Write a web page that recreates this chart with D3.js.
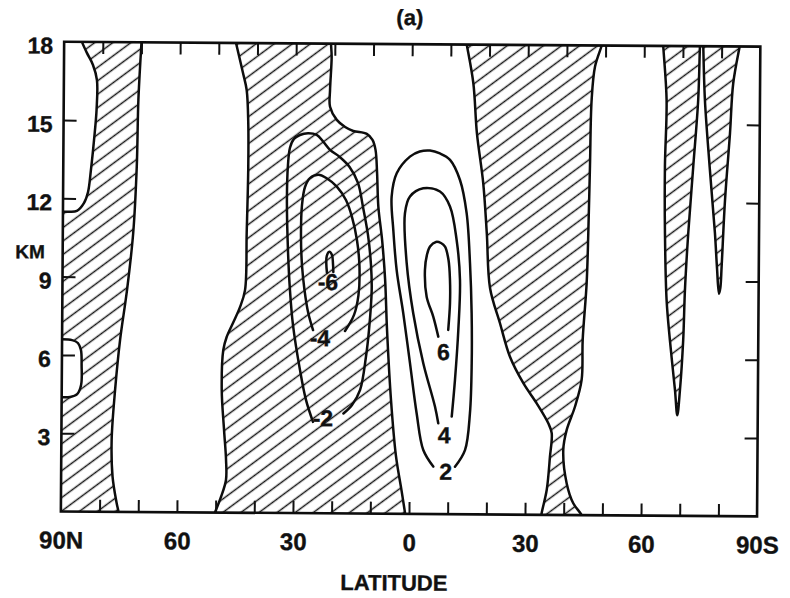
<!DOCTYPE html>
<html>
<head>
<meta charset="utf-8">
<script src="https://cdn.jsdelivr.net/npm/d3@7"></script>
<style>
  html, body { margin: 0; padding: 0; background: #fff; }
  svg { display: block; }
  text { font-family: "Liberation Sans", Arial, sans-serif; font-weight: bold; fill: #111;
         stroke: #111; stroke-width: 0.35; }
</style>
</head>
<body>
<svg id="chart" width="790" height="598"></svg>
<script>
// ---- axis ticks ----
const latTicks = [90, 60, 30, 0, -30, -60, -90];
const latTickLabels = ["90N", "60", "30", "0", "30", "60", "90S"];
const latTickMarks = [80, 70, 60, 50, 40, 30, 20, 10, 0, -10, -20, -30, -40, -50, -60, -70, -80];
const kmTicks = [3, 6, 9, 12, 15, 18];
const kmTickMarks = [3, 6, 9, 12, 15];

// ---- zero lines, [latitude (N > 0), height km], traced top to bottom ----
const zeroPolarCap = [[86.1, 18.3], [85.4, 18.0], [84.1, 17.58], [82.5, 17.12], [81.45, 16.54], [81.5, 15.39],
  [82.1, 14.24], [82.85, 13.09], [83.55, 12.25], [84.6, 11.82], [86.4, 11.52], [89.0, 11.49], [91.5, 11.49]];
const zeroArcticEdge = [[69.9, 18.3], [70.0, 18.0], [70.7, 15.8], [71.0, 13.24], [71.8, 10.69], [73.3, 8.5],
  [75.0, 6.59], [76.2, 4.67], [77.0, 2.75], [76.7, 1.35], [75.6, 0.34], [75.1, 0.0], [74.9, -0.3]];
const arcticPocket = [[91.5, 6.59], [87.4, 6.57], [85.9, 6.46], [85.1, 6.19], [84.9, 5.61], [85.0, 4.85],
  [86.0, 4.5], [87.8, 4.39], [91.5, 4.39]];
const zeroMidLatN = [[46.0, 18.3], [45.56, 18.0], [43.7, 16.85], [42.72, 16.2], [42.25, 14.93], [42.17, 13.25],
  [42.46, 10.72], [42.79, 8.53], [44.06, 7.88], [45.84, 7.27], [47.45, 6.73], [48.3, 6.23], [48.63, 4.7],
  [47.96, 3.17], [47.39, 2.02], [47.37, 1.25], [48.63, 0.6], [50.16, 0.0], [50.9, -0.3]];
const zeroTropicN = [[21.0, 18.3], [21.0, 18.0], [20.81, 17.5], [21.17, 16.22], [21.14, 15.58], [19.38, 15.08],
  [17.2, 14.81], [15.08, 14.66], [11.59, 14.55], [10.1, 14.32], [9.3, 13.94], [8.86, 13.06], [8.47, 11.77],
  [7.44, 10.49], [6.6, 9.0], [6.0, 7.04], [4.86, 4.38], [3.47, 2.22], [2.0, 0.93], [0.98, 0.0], [0.6, -0.3]];
const zeroSubtropS = [[-13.7, 18.3], [-14.09, 18.0], [-15.87, 16.52], [-16.88, 14.61], [-18.61, 12.69],
  [-19.62, 10.77], [-20.55, 8.68], [-23.19, 7.33], [-25.83, 6.05], [-29.34, 5.04], [-32.83, 4.27],
  [-35.86, 3.51], [-36.76, 3.13], [-36.35, 2.23], [-35.57, 0.95], [-34.3, 0.06], [-34.0, -0.3]];
const zeroMidLatS = [[-49.5, 18.3], [-48.99, 18.0], [-47.3, 17.19], [-46.48, 15.91], [-46.17, 13.36],
  [-45.86, 10.8], [-45.52, 8.88], [-44.6, 6.71], [-44.4, 5.18], [-42.72, 4.15], [-40.63, 3.26],
  [-39.78, 2.49], [-40.71, 1.22], [-42.46, 0.45], [-44.64, 0.0], [-45.3, -0.3]];
const wedge70S = [[-64.8, 18.3], [-64.9, 18.0], [-65.86, 15.93], [-65.55, 13.38], [-65.68, 10.82],
  [-66.22, 8.27], [-67.15, 6.73], [-68.55, 4.82], [-69.2, 3.85], [-69.84, 4.82], [-70.59, 6.74],
  [-70.95, 8.66], [-71.7, 10.83], [-72.87, 13.38], [-74.03, 15.94], [-74.4, 18.05], [-74.5, 18.3]];
const wedge80S = [[-75.2, 18.3], [-75.25, 18.0], [-75.77, 15.94], [-77.11, 13.39], [-78.6, 10.84],
  [-79.2, 9.5], [-79.75, 8.52], [-80.1, 8.75], [-80.39, 9.56], [-81.15, 12.12], [-82.31, 14.67],
  [-83.06, 16.59], [-84.74, 18.07], [-85.0, 18.3]];

// ---- labelled contours ----
const contourMinus2 = [[24.98, 3.5], [26.83, 4.34], [28.44, 5.49], [30.33, 7.21], [31.16, 8.52], [31.76, 10.08],
  [32.12, 12.0], [31.91, 13.34], [31.42, 14.0], [30.41, 14.34], [28.88, 14.49], [26.79, 14.56], [24.54, 14.5],
  [22.83, 14.24], [21.07, 13.93], [18.54, 13.66], [15.98, 13.28], [13.78, 12.67], [12.44, 11.75], [11.1, 10.68],
  [10.27, 9.53], [10.04, 8.57], [10.66, 7.04], [11.41, 6.0], [12.88, 4.73], [14.92, 4.16], [17.12, 3.83]];
const contourMinus4 = [[25.13, 7.02], [26.4, 7.67], [27.41, 8.55], [28.11, 9.51], [28.42, 10.66], [28.21, 11.81],
  [27.47, 12.5], [26.2, 12.84], [24.05, 12.97], [21.88, 12.84], [19.24, 12.52], [16.86, 12.01], [15.26, 11.36],
  [13.94, 10.48], [13.24, 9.45], [13.45, 8.37], [14.56, 7.61], [16.86, 6.99]];
const contourMinus6 = [[21.63, 9.21], [21.82, 9.56], [21.72, 9.86], [21.07, 10.02], [20.37, 9.9], [20.09, 9.56],
  [19.99, 9.25]];
const contourPlus2 = [[-6.2, 1.82], [-3.59, 2.45], [-1.8, 3.86], [0.0, 5.77], [1.84, 7.69], [3.62, 9.34],
  [4.56, 10.88], [5.05, 12.15], [3.78, 13.05], [0.39, 13.69], [-2.14, 13.89], [-4.78, 13.93], [-7.36, 13.82],
  [-9.98, 13.58], [-12.59, 12.81], [-14.37, 11.54], [-15.33, 9.62], [-15.84, 7.71], [-15.95, 5.79],
  [-15.58, 3.87], [-14.37, 2.46], [-11.81, 1.82]];
const contourPlus4 = [[-7.41, 3.48], [-6.53, 4.12], [-3.43, 5.78], [-0.74, 7.69], [1.04, 9.61], [1.58, 11.52],
  [0.31, 12.16], [-3.1, 12.48], [-7.44, 12.36], [-10.05, 11.79], [-11.83, 10.51], [-12.77, 8.98],
  [-12.43, 7.06], [-11.65, 5.14], [-10.88, 3.74]];
const contourPlus6 = [[-7.26, 6.8], [-5.94, 7.56], [-4.18, 8.33], [-3.69, 9.35], [-4.18, 9.93], [-4.96, 10.25],
  [-6.48, 10.43], [-7.79, 10.39], [-8.84, 10.25], [-9.77, 9.74], [-10.18, 8.98], [-10.23, 8.08], [-9.82, 7.06]];

const labelText = ["-6", "-4", "-2", "6", "4", "2"];
const labelLat = [21.36, 23.33, 22.41, -8.6, -8.97, -9.43];
const labelKm = [8.87, 6.72, 3.65, 6.22, 3.03, 1.63];

// ---- layout ----
const frame = { left: 62.5, right: 758.7, top: 44.2, bottom: 513.9 };

const svg = d3.select("#chart");
const defs = svg.append("defs");

defs.append("clipPath").attr("id", "frame-clip")
  .append("rect")
  .attr("x", frame.left).attr("y", frame.top)
  .attr("width", frame.right - frame.left).attr("height", frame.bottom - frame.top);

const hatch = defs.append("pattern")
  .attr("id", "hatch")
  .attr("patternUnits", "userSpaceOnUse")
  .attr("width", 40).attr("height", 10.8)
  .attr("patternTransform", "rotate(-37)");
hatch.append("line")
  .attr("x1", -2).attr("x2", 42).attr("y1", 5.4).attr("y2", 5.4)
  .attr("stroke", "#151515").attr("stroke-width", 1.5);

// the whole sheet sits at a very slight tilt
const g = svg.append("g").attr("transform", "rotate(0.4, 410.6, 279)");

const x = d3.scaleLinear().domain([90, -90]).range([frame.left, frame.right]);
const y = d3.scaleLinear().domain([0, 18]).range([frame.bottom, frame.top]);

const line = d3.line()
  .x(d => x(d[0])).y(d => y(d[1]))
  .curve(d3.curveCatmullRom.alpha(0.5));

// build a closed outline from curve pieces and straight corner points
function outline(parts) {
  let d = "";
  parts.forEach((p, i) => {
    if (p.curve) {
      const s = line(p.curve);
      d += i === 0 ? s : "L" + s.slice(1);
    } else {
      d += (i === 0 ? "M" : "L") + x(p.pt[0]) + "," + y(p.pt[1]);
    }
  });
  return d + "Z";
}
const rev = a => a.slice().reverse();

const plot = g.append("g").attr("clip-path", "url(#frame-clip)");

// hatched (negative) areas
const hatchedAreas = [
  [{ pt: [93, 18.6] }, { curve: zeroArcticEdge }, { pt: [93, -0.6] }],
  [{ curve: zeroMidLatN }, { curve: rev(zeroTropicN) }],
  [{ curve: zeroSubtropS }, { curve: rev(zeroMidLatS) }],
  [{ curve: wedge70S }],
  [{ curve: wedge80S }]
];
plot.selectAll("path.neg")
  .data(hatchedAreas)
  .join("path")
  .attr("class", "neg")
  .attr("d", outline)
  .attr("fill", "url(#hatch)")
  .attr("stroke", "none");

// positive pockets cut out of the polar band
const clearAreas = [
  [{ curve: zeroPolarCap }, { pt: [93, 11.49] }, { pt: [93, 18.6] }, { pt: [86.1, 18.6] }],
  [{ curve: arcticPocket }, { pt: [93, 4.39] }, { pt: [93, 6.59] }]
];
plot.selectAll("path.pos")
  .data(clearAreas)
  .join("path")
  .attr("class", "pos")
  .attr("d", outline)
  .attr("fill", "#fff")
  .attr("stroke", "none");

// contour lines
const contourLines = [zeroPolarCap, zeroArcticEdge, arcticPocket, zeroMidLatN, zeroTropicN, zeroSubtropS,
  zeroMidLatS, wedge70S, wedge80S, contourMinus2, contourMinus4, contourMinus6,
  contourPlus2, contourPlus4, contourPlus6];
plot.selectAll("path.contour")
  .data(contourLines)
  .join("path")
  .attr("class", "contour")
  .attr("d", line)
  .attr("fill", "none")
  .attr("stroke", "#0d0d0d")
  .attr("stroke-width", 2.5)
  .attr("stroke-linejoin", "round")
  .attr("stroke-linecap", "round");

// contour labels
plot.selectAll("text.clabel")
  .data(labelText)
  .join("text")
  .attr("class", "clabel")
  .attr("x", (d, i) => x(labelLat[i]))
  .attr("y", (d, i) => y(labelKm[i]))
  .attr("dy", "0.36em")
  .attr("text-anchor", "middle")
  .attr("font-size", 23)
  .text(d => d);

// ---- axes ----
function styleTicks(sel) {
  sel.select(".domain").remove();
  sel.selectAll(".tick line").attr("stroke", "#111").attr("stroke-width", 2);
}
g.append("g").attr("transform", `translate(0,${frame.bottom})`)
  .call(d3.axisBottom(x).tickValues(latTickMarks).tickSize(-12).tickFormat(""))
  .call(styleTicks);
g.append("g").attr("transform", `translate(0,${frame.top})`)
  .call(d3.axisTop(x).tickValues(latTickMarks).tickSize(-12).tickFormat(""))
  .call(styleTicks);
g.append("g").attr("transform", `translate(${frame.left},0)`)
  .call(d3.axisLeft(y).tickValues(kmTickMarks).tickSize(-13).tickFormat(""))
  .call(styleTicks);
g.append("g").attr("transform", `translate(${frame.right},0)`)
  .call(d3.axisRight(y).tickValues(kmTickMarks).tickSize(-13).tickFormat(""))
  .call(styleTicks);

const xLab = g.append("g").attr("transform", `translate(0,${frame.bottom})`)
  .call(d3.axisBottom(x).tickValues(latTicks).tickSize(0).tickPadding(20)
    .tickFormat((d, i) => latTickLabels[i]));
xLab.select(".domain").remove();
xLab.selectAll("text").attr("font-size", 24).attr("font-family", null).style("fill", "#111");

const yLab = g.append("g").attr("transform", `translate(${frame.left},0)`)
  .call(d3.axisLeft(y).tickValues(kmTicks).tickSize(0).tickPadding(11));
yLab.select(".domain").remove();
yLab.selectAll("text").attr("font-size", 23).attr("font-family", null).attr("dy", "0.5em").style("fill", "#111");

// frame
g.append("rect")
  .attr("x", frame.left).attr("y", frame.top)
  .attr("width", frame.right - frame.left).attr("height", frame.bottom - frame.top)
  .attr("fill", "none").attr("stroke", "#0d0d0d").attr("stroke-width", 2.6);

// titles
g.append("text").attr("x", 408).attr("y", 25).attr("text-anchor", "middle")
  .attr("font-size", 22).text("(a)");
g.append("text").attr("x", 30).attr("y", 261).attr("text-anchor", "middle")
  .attr("font-size", 19).text("KM");
g.append("text").attr("x", 396).attr("y", 590.5).attr("text-anchor", "middle")
  .attr("font-size", 22).text("LATITUDE");
</script>
</body>
</html>
